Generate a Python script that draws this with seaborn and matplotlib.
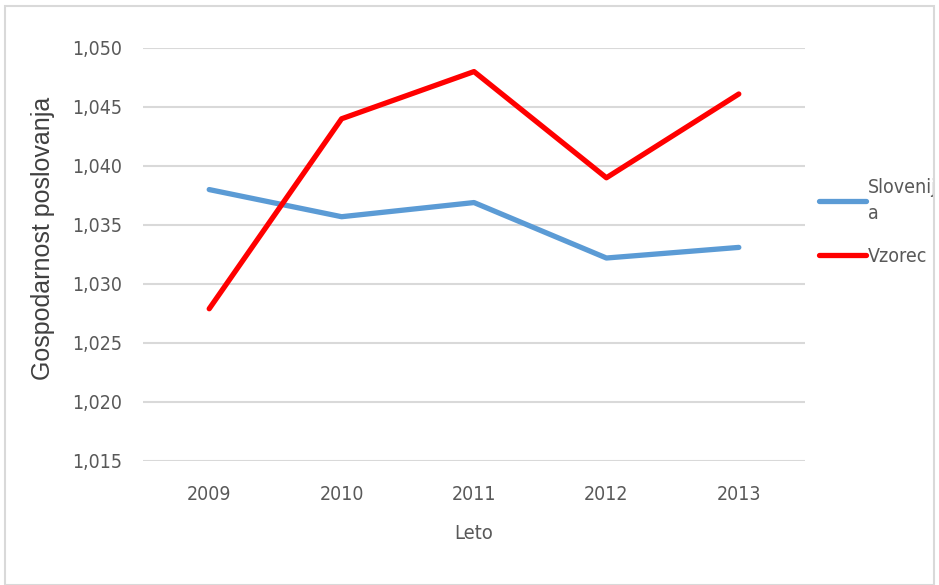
import pandas as pd
import matplotlib.pyplot as plt
import matplotlib.ticker as mticker
from matplotlib.patches import Rectangle
import seaborn as sns

sns.set_style("white")
plt.rcParams['font.family'] = ['DejaVu Sans']
plt.rcParams['font.stretch'] = 'condensed'

years = ['2009', '2010', '2011', '2012', '2013']
slovenija = [1.0380, 1.0357, 1.0369, 1.0322, 1.0331]
vzorec = [1.0279, 1.0440, 1.0480, 1.0390, 1.0461]

df = pd.DataFrame({
    'Leto': years * 2,
    'value': slovenija + vzorec,
    'series': ['Slovenij\na'] * 5 + ['Vzorec'] * 5,
})

grey = '#595959'
fig = plt.figure(figsize=(9.39, 5.85), dpi=100)
ax = fig.add_axes([0.1523, 0.212, 0.705, 0.706])

sns.lineplot(data=df, x='Leto', y='value', hue='series',
             palette=['#5B9BD5', '#FF0000'], linewidth=3.8, ax=ax)

ax.set_xlim(-0.5, 4.5)
ax.set_ylim(1.015, 1.050)
ax.set_yticks([1.015, 1.020, 1.025, 1.030, 1.035, 1.040, 1.045, 1.050])
ax.yaxis.set_major_formatter(mticker.FuncFormatter(lambda v, p: f'{v:.3f}'.replace('.', ',')))
ax.grid(axis='y', color='#D9D9D9', linewidth=1.5)
ax.set_axisbelow(True)
for s in ax.spines.values():
    s.set_visible(False)
ax.tick_params(axis='both', length=0, labelsize=14, labelcolor=grey)
ax.tick_params(axis='y', pad=15)
ax.tick_params(axis='x', pad=17)
ax.set_xlabel('Leto', fontsize=14.5, color=grey, labelpad=15)
ax.set_ylabel('Gospodarnost poslovanja', fontsize=18, color='#404040',
              family=['Liberation Sans', 'DejaVu Sans'], fontstretch='normal')
ax.yaxis.set_label_coords(-0.133, 0.54)

leg = ax.legend(loc='upper left', bbox_to_anchor=(0.995, 0.728), frameon=False,
                fontsize=14, handlelength=2.4, handletextpad=0.1,
                labelspacing=1.2, labelcolor=grey)
for t in leg.get_texts():
    t.set_linespacing(1.5)

fig.add_artist(Rectangle((0.005, 0.0), 0.99, 0.99, transform=fig.transFigure,
                         fill=False, edgecolor='#D9D9D9', linewidth=1.5))

plt.savefig('out.png', dpi=100)
